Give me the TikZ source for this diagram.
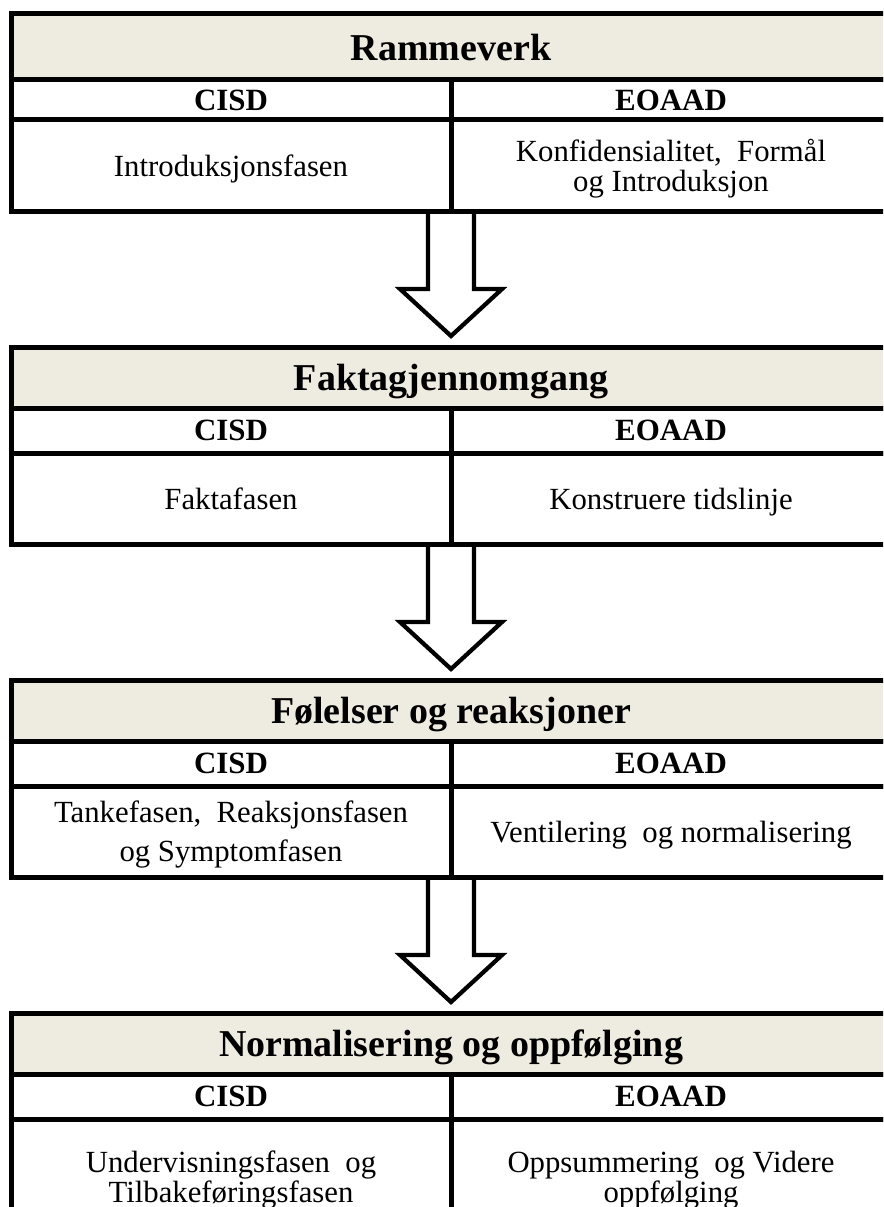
\documentclass[tikz,border=0pt]{standalone}
\usepackage{fontspec}
\setmainfont{Liberation Serif}
\usetikzlibrary{positioning,calc}
\definecolor{titlefill}{HTML}{EEECE1}
\tikzset{
    cell/.style={draw, line width=1mm, inner sep=0pt, outer sep=0pt, align=center, text depth=0pt, minimum width=88mm},
    phasetitle/.style={cell, fill=titlefill, minimum width=176mm, minimum height=12.2mm, font=\bfseries\fontsize{21.6}{24}\selectfont},
    method/.style={cell, minimum height=9mm, font=\bfseries\fontsize{17.6}{18}\selectfont},
    phase/.style={cell, minimum height=#1, font=\fontsize{17.5}{17}\selectfont},
    phase/.default=18.2mm,
    bigarrow/.style={draw, line width=0.85mm},
}

\begin{document}
\begin{tikzpicture}[x=0.2mm, y=0.2mm]
  \useasboundingbox (0,0) rectangle (883,-1207);
  \clip (0,0) rectangle (883,-1207);

  \node [phasetitle, minimum height=13.2mm, anchor=north west] (rammetitle) at (11,-14) {Rammeverk};
  \node [method, minimum height=8mm, below=0pt of rammetitle.south west, anchor=north west] (rammecisd) {CISD};
  \node [method, minimum height=8mm, right=0pt of rammecisd] (rammeeoaad) {EOAAD};
  \node [phase, below=0pt of rammecisd] (rammecisdtxt) {Introduksjonsfasen};
  \node [phase, right=0pt of rammecisdtxt] (rammeeoaadtxt) {Konfidensialitet,~ Formål\\og Introduksjon};

  \node [phasetitle, below=27.2mm of rammecisdtxt.south west, anchor=north west] (faktatitle) {Faktagjennomgang};
  \node [method, below=0pt of faktatitle.south west, anchor=north west] (faktacisd) {CISD};
  \node [method, right=0pt of faktacisd] (faktaeoaad) {EOAAD};
  \node [phase, below=0pt of faktacisd] (faktacisdtxt) {Faktafasen};
  \node [phase, right=0pt of faktacisdtxt] (faktaeoaadtxt) {Konstruere tidslinje};

  \node [phasetitle, below=27.2mm of faktacisdtxt.south west, anchor=north west] (folelsertitle) {Følelser og reaksjoner};
  \node [method, below=0pt of folelsertitle.south west, anchor=north west] (folelsercisd) {CISD};
  \node [method, right=0pt of folelsercisd] (folelsereoaad) {EOAAD};
  \node [phase, below=0pt of folelsercisd] (folelsercisdtxt) {Tankefasen,~ Reaksjonsfasen\\[1.8mm]og Symptomfasen};
  \node [phase, right=0pt of folelsercisdtxt] (folelsereoaadtxt) {Ventilering~ og normalisering};

  \node [phasetitle, below=27.2mm of folelsercisdtxt.south west, anchor=north west] (normtitle) {Normalisering og oppfølging};
  \node [method, below=0pt of normtitle.south west, anchor=north west] (normcisd) {CISD};
  \node [method, right=0pt of normcisd] (normeoaad) {EOAAD};
  \node [phase=23mm, below=0pt of normcisd] (normcisdtxt) {Undervisningsfasen~ og\\Tilbakeføringsfasen};
  \node [phase=23mm, right=0pt of normcisdtxt] (normeoaadtxt) {Oppsummering~ og Videre\\oppfølging};

  % PILER
  \draw[bigarrow] ($(rammecisdtxt.south east)+(-23,0)$) -- ++(0,-78) -- ++(-28,0) -- ($(rammecisdtxt.south east |- faktatitle.north)+(0,11)$) -- ++(51,47) -- ++(-28,0) -- ($(rammecisdtxt.south east)+(23,0)$);
  \draw[bigarrow] ($(faktacisdtxt.south east)+(-23,0)$) -- ++(0,-78) -- ++(-28,0) -- ($(faktacisdtxt.south east |- folelsertitle.north)+(0,11)$) -- ++(51,47) -- ++(-28,0) -- ($(faktacisdtxt.south east)+(23,0)$);
  \draw[bigarrow] ($(folelsercisdtxt.south east)+(-23,0)$) -- ++(0,-78) -- ++(-28,0) -- ($(folelsercisdtxt.south east |- normtitle.north)+(0,11)$) -- ++(51,47) -- ++(-28,0) -- ($(folelsercisdtxt.south east)+(23,0)$);
\end{tikzpicture}
\end{document}
